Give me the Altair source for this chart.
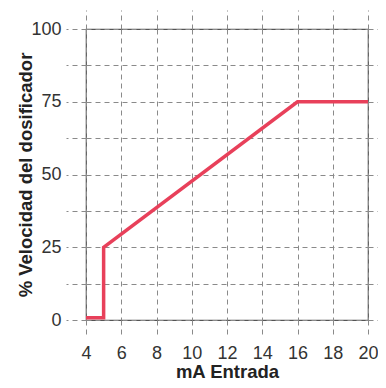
import altair as alt
import pandas as pd

# data
x_ma = [4, 5, 5, 16, 20]
y_pct = [0.8, 0.8, 25, 75, 75]
x_ticks = [4, 6, 8, 10, 12, 14, 16, 18, 20]
y_ticks = [0, 12.5, 25, 37.5, 50, 62.5, 75, 87.5, 100]

df = pd.DataFrame({"i": range(len(x_ma)), "x": x_ma, "y": y_pct})

LBL_FONT = "Liberation Sans, Arial, sans-serif"
TTL_FONT = "Liberation Sans, Arial, sans-serif"
GRID = "#8a8a8a"
DASH = [5, 4]
W, H = 282, 291

xscale = alt.Scale(domain=[4, 20], nice=False, zero=False)
yscale = alt.Scale(domain=[0, 100], nice=False)

line = alt.Chart(df).mark_line(color="#E8405A", strokeWidth=3.5, strokeCap="butt", strokeJoin="miter").encode(
    x=alt.X("x:Q", scale=xscale, axis=alt.Axis(
        values=x_ticks, title="mA Entrada", grid=True, gridDash=DASH, gridColor=GRID, gridWidth=1,
        domain=False, ticks=True, tickDash=DASH, tickColor=GRID, tickSize=17, tickWidth=1,
        labelFont=LBL_FONT, labelFontSize=18, labelColor="#333", labelPadding=7, labelFlush=False,
        titleFont=TTL_FONT, titleFontSize=18.5, titleFontWeight="bold", titleColor="#222",
        titleX=W / 2, titleY=57, titleBaseline="alphabetic")),
    y=alt.Y("y:Q", scale=yscale, axis=alt.Axis(
        values=y_ticks, title="% Velocidad del dosificador", grid=True, gridDash=DASH, gridColor=GRID, gridWidth=1,
        domain=False, ticks=True, tickDash=DASH, tickColor=GRID, tickSize=20, tickWidth=1,
        labelExpr="datum.value % 25 == 0 ? datum.label : ''", labelFlush=False,
        labelFont=LBL_FONT, labelFontSize=18, labelColor="#333", labelPadding=5,
        titleFont=TTL_FONT, titleFontSize=18.5, titleFontWeight="bold", titleColor="#222",
        titleX=-55, titleY=H / 2, titleBaseline="alphabetic")),
    order="i:O",
)

extra = alt.Chart(df).mark_line(opacity=0).encode(
    x=alt.X("x:Q", scale=xscale, axis=alt.Axis(
        orient="top", values=x_ticks, title=None, grid=False, domain=False, labels=False,
        ticks=True, tickDash=DASH, tickColor=GRID, tickSize=19, tickWidth=1)),
    y=alt.Y("y:Q", scale=yscale, axis=alt.Axis(
        orient="right", values=y_ticks, title=None, grid=False, domain=False, labels=False,
        ticks=True, tickDash=DASH, tickColor=GRID, tickSize=10, tickWidth=1)),
    order="i:O",
)

chart = alt.layer(extra, line).resolve_axis(x="independent", y="independent").properties(
    width=W, height=H,
    autosize=alt.AutoSizeParams(type="none"),
    padding={"left": 78, "top": 21, "right": 10, "bottom": 60},
    background="white",
).configure_view(stroke="#555", strokeWidth=1.2)

chart.save("out.html", embed_options={"renderer": "svg", "actions": False})
